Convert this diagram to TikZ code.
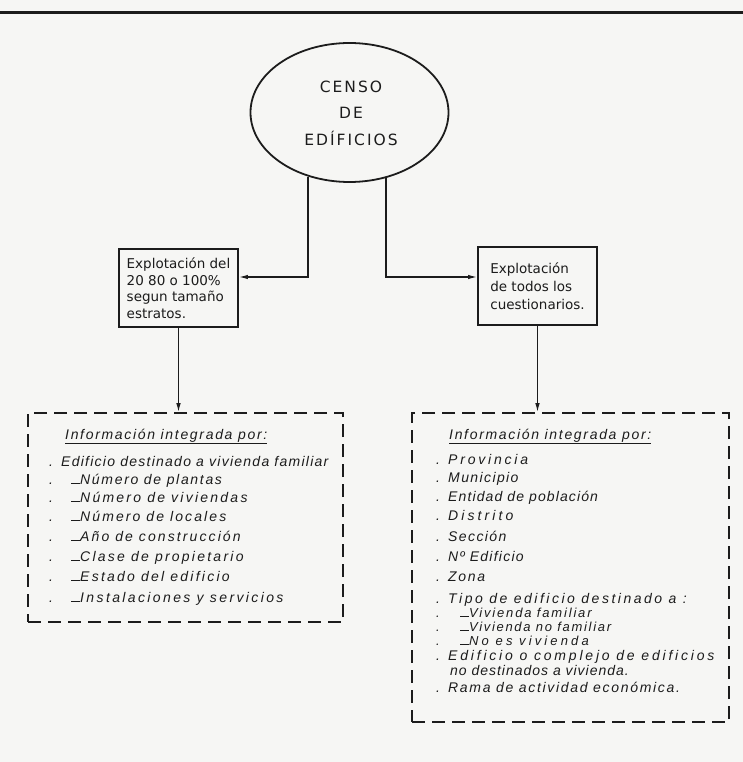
\documentclass[tikz,border=0pt]{standalone}
\usepackage{fontspec}
\setmainfont{DejaVu Sans}
\newfontfamily\letfont[LetterSpace=12]{Liberation Sans}
\usetikzlibrary{shapes.geometric,arrows.meta}
\definecolor{ink}{RGB}{28,28,28}
\definecolor{paper}{RGB}{246,246,244}
\newcommand{\subdash}{\rule{9pt}{0.9pt}}
\newcommand{\dotcol}{\makebox[12pt][l]{.}}
\newcommand{\lsp}[1]{\addfontfeature{LetterSpace=#1}}
\begin{document}
\begin{tikzpicture}[x=1pt,y=-1pt,
  mainbox/.style={draw=ink, line width=1.8pt, minimum width=119pt, minimum height=78pt,
    inner sep=0pt, align=left, text=ink,
    font=\fontsize{13.5}{16.5}\selectfont},
  infobox/.style={draw=ink, line width=1.6pt, dash pattern=on 13pt off 7pt, inner sep=0pt},
  row/.style={anchor=base west, inner sep=0pt, text=ink,
    font=\letfont\itshape\fontsize{14}{16}\selectfont},
  subrow/.style={row, font=\letfont\itshape\fontsize{13}{14}\selectfont},
  conn/.style={draw=ink, line width=1.3pt, -{Latex[length=9pt,width=4.5pt]}}]
\useasboundingbox[fill=paper] (0,0) rectangle (743,762);
\draw[ink, line width=3pt] (0,13) -- (743,13);

\node[ellipse, draw=ink, line width=1.8pt, minimum width=198pt, minimum height=139pt,
  inner sep=0pt] (censo) at (349.5,112.5) {};
\node[align=center, text=ink, font=\fontsize{15.5}{26.5}\selectfont\addfontfeature{LetterSpace=13}]
  (censotxt) at (351,113) {CENSO\\DE\\EDÍFICIOS};

\node[mainbox] (box1) at (178.5,288) {Explotación del\\20 80 o 100\%\\segun tamaño\\estratos.};
\node[mainbox, font=\fontsize{13.5}{18}\selectfont] (box2) at (537.5,286) {Explotación\\de todos los\\cuestionarios.};

\draw[conn] (censo.237.43) |- ([yshift=11pt]box1.east);
\draw[conn] (censo.299.47) |- ([yshift=9pt]box2.west);

\node[infobox, minimum width=315pt, minimum height=209pt] (info1) at (185.5,517.5) {};
\node[infobox, minimum width=317pt, minimum height=309pt] (info2) at (570.5,567.5) {};

\draw[conn] (box1.south) -- (box1.south |- info1.north);
\draw[conn] (box2.south) -- (box2.south |- info2.north);

% left list
\node[row] (l0) at (65,439) {\underline{Información integrada por:}};
\node[row] (l1) at (49,466) {\lsp{9}\dotcol Edificio destinado a vivienda familiar};
\node[row] (l2) at (49,484) {\dotcol\hspace{10pt}\subdash Número de plantas};
\node[row] (l3) at (49,502) {\lsp{16}\dotcol\hspace{10pt}\subdash Número de viviendas};
\node[row] (l4) at (49,521) {\lsp{15}\dotcol\hspace{10pt}\subdash Número de locales};
\node[row] (l5) at (49,541) {\lsp{15}\dotcol\hspace{10pt}\subdash Año de construcción};
\node[row] (l6) at (49,561) {\lsp{16}\dotcol\hspace{10pt}\subdash Clase de propietario};
\node[row] (l7) at (49,581) {\lsp{16}\dotcol\hspace{10pt}\subdash Estado del edificio};
\node[row] (l8) at (49,602) {\lsp{17}\dotcol\hspace{10pt}\subdash Instalaciones y servicios};

% right list
\node[row] (r0) at (449,439) {\underline{Información integrada por:}};
\node[row] (r1) at (436,464) {\lsp{20}\dotcol Provincia};
\node[row] (r2) at (436,482) {\lsp{10}\dotcol Municipio};
\node[row] (r3) at (436,501) {\lsp{8}\dotcol Entidad de población};
\node[row] (r4) at (436,520) {\lsp{22}\dotcol Distrito};
\node[row] (r5) at (436,541) {\lsp{10}\dotcol Sección};
\node[row] (r6) at (436,561) {\lsp{9}\dotcol Nº Edificio};
\node[row] (r7) at (436,581) {\dotcol Zona};
\node[row] (r8) at (436,603) {\lsp{18}\dotcol Tipo de edificio destinado a :};
\node[subrow] (r9) at (436,617) {\lsp{14}\dotcol\hspace{12pt}\subdash Vivienda familiar};
\node[subrow] (r10) at (436,631) {\lsp{13}\dotcol\hspace{12pt}\subdash Vivienda no familiar};
\node[subrow] (r11) at (436,645) {\lsp{24}\dotcol\hspace{12pt}\subdash No es vivienda};
\node[row] (r12) at (436,660) {\lsp{20}\dotcol Edificio o complejo de edificios};
\node[row] (r13) at (436,675) {\lsp{7}\makebox[14pt][l]{}no destinados a vivienda.};
\node[row] (r14) at (436,692) {\dotcol Rama de actividad económica.};
\end{tikzpicture}
\end{document}
